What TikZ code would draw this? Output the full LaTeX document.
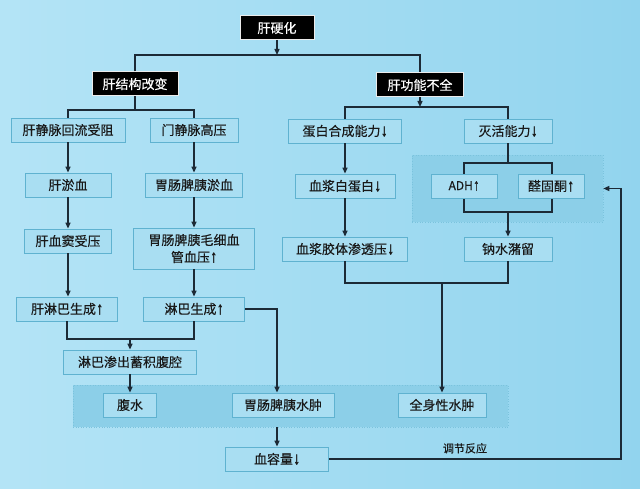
\documentclass[tikz,border=0pt]{standalone}
\usepackage{fontspec}
\usepackage{graphicx}
\setmainfont{Noto Sans CJK SC}[FakeBold=0.35]
\newfontfamily\arrfont{Liberation Sans}[FakeBold=0.6]
\newcommand{\myup}{{\kern0.5pt\raisebox{-0.3pt}{\scalebox{1}[1.35]{\arrfont ↑}}}}
\newcommand{\mydn}{{\kern0.5pt\raisebox{-0.3pt}{\scalebox{1}[1.35]{\arrfont ↓}}}}
\usetikzlibrary{arrows.meta,positioning}
\definecolor{bgL}{HTML}{B4E4F6}
\definecolor{bgR}{HTML}{92D4EE}
\definecolor{boxfill}{HTML}{A9DEF2}
\definecolor{boxline}{HTML}{5FB2D0}
\definecolor{bandfill}{HTML}{8CCFE8}
\definecolor{bandline}{HTML}{7BC3DD}
\definecolor{ink}{HTML}{1C2A36}
\begin{document}
\begin{tikzpicture}[x=1pt,y=-1pt,
  cbox/.style={draw=boxline,fill=boxfill,line width=0.8pt,minimum height=24pt,inner sep=0pt,align=center,font=\fontsize{13}{15}\selectfont,text=black!90},
  kbox/.style={draw=white!85!gray,fill=black,line width=1pt,minimum height=24pt,inner sep=0pt,text=white,font=\fontsize{13}{15}\selectfont},
  band/.style={draw=bandline,dotted,fill=bandfill,line width=0.6pt,inner sep=0pt},
  link/.style={draw=ink,line width=1.3pt},
  arr/.style={link,-{Triangle[length=6pt,width=5pt]}}]
\shade[left color=bgL,right color=bgR] (0,0) rectangle (640,489);
\useasboundingbox (0,0) rectangle (640,489);
% bands
\node[band,minimum width=435pt,minimum height=42pt] (band1) at (290.5,406) {};
\node[band,minimum width=191pt,minimum height=67pt] (band2) at (507.5,188.5) {};
% coordinates
\coordinate (j1) at (277,55);
\coordinate (j2) at (135,110);
\coordinate (j3) at (420,107);
\coordinate (j4) at (130,339);
\coordinate (j5) at (442,283);
\coordinate (j6) at (508,163);
\coordinate (j7) at (508,212);
\coordinate (c1) at (621,188.5);
\coordinate (g1) at (464,163);
\coordinate (g2) at (552,163);
\coordinate (g3) at (552,212);
\coordinate (g4) at (464,212);
% nodes
\node[kbox,minimum width=74pt] (top) at (277,28) {肝硬化};
\node[kbox,minimum width=86pt] (struct) at (135,84) {肝结构改变};
\node[kbox,minimum width=87pt] (func) at (420,85) {肝功能不全};
\node[cbox,minimum width=114pt] (hv) at (68,130) {肝静脉回流受阻};
\node[cbox,minimum width=88pt] (pv) at (194,130) {门静脉高压};
\node[cbox,minimum width=113pt] (ps) at (345,131) {蛋白合成能力\mydn};
\node[cbox,minimum width=88pt] (ia) at (508,131) {灭活能力\mydn};
\node[cbox,minimum width=86pt] (lc) at (68,185) {肝淤血};
\node[cbox,minimum width=97pt] (gc) at (194,185) {胃肠脾胰淤血};
\node[cbox,minimum width=100pt] (pa) at (345,186) {血浆白蛋白\mydn};
\node[cbox,minimum width=87pt] (sin) at (68,241) {肝血窦受压};
\node[cbox,minimum width=121pt,minimum height=41pt,font=\fontsize{13}{17}\selectfont] (cap) at (194,248.5) {胃肠脾胰毛细血\\管血压\myup};
\node[cbox,minimum width=125pt] (cop) at (345,249) {血浆胶体渗透压\mydn};
\node[cbox,minimum width=88pt] (na) at (508,249) {钠水潴留};
\node[cbox,minimum width=101pt] (hl) at (67,309) {肝淋巴生成\myup};
\node[cbox,minimum width=101pt] (ly) at (194,309) {淋巴生成\myup};
\node[cbox,minimum width=133pt] (ex) at (130,362) {淋巴渗出蓄积腹腔};
\node[cbox,minimum width=53pt] (asc) at (130,405) {腹水};
\node[cbox,minimum width=102pt] (ge) at (283,405) {胃肠脾胰水肿};
\node[cbox,minimum width=88pt] (se) at (442,405) {全身性水肿};
\node[cbox,minimum width=103pt] (bv) at (277,459) {血容量\mydn};
% ADH group (lines behind boxes)
\draw[link] (g1) -- (g4) -- (g3) -- (g2) -- cycle;
\node[cbox,minimum width=66pt,font=\fontsize{12}{14}\selectfont] (adh) at (464,186) {ADH\myup};
\node[cbox,minimum width=66pt] (ald) at (551,186) {醛固酮\myup};
\draw[link] (ia.south) -- (j6);
\draw[arr] (j7) -- (na.north);
% connectors
\draw[arr] (top.south) -- (j1);
\draw[link] (struct.north) |- (j1) -| (func.north);
\draw[link] (struct.south) -- (j2);
\draw[link] (hv.north) |- (j2) -| (pv.north);
\draw[arr] (func.south) -- (j3);
\draw[link] (ps.north) |- (j3) -| (ia.north);
\draw[arr] (hv.south) -- (hv.south |- lc.north);
\draw[arr] (lc.south) -- (lc.south |- sin.north);
\draw[arr] (sin.south) -- (sin.south |- hl.north);
\draw[arr] (pv.south) -- (pv.south |- gc.north);
\draw[arr] (gc.south) -- (gc.south |- cap.north);
\draw[arr] (cap.south) -- (cap.south |- ly.north);
\draw[arr] (ps.south) -- (ps.south |- pa.north);
\draw[arr] (pa.south) -- (pa.south |- cop.north);
\draw[link] (hl.south) |- (j4) -| (ly.south);
\draw[arr] (j4) -- (ex.north);
\draw[arr] (ex.south) -- (asc.north);
\draw[arr] (ly.east) -| (bv.north |- ge.north);
\draw[arr] (bv.north |- band1.south) -- (bv.north);
\draw[link] (cop.south) |- (j5) -| (na.south);
\draw[arr] (j5) -- (se.north);
\draw[arr] (bv.east) -| (c1) -- (band2.east);
\node[font=\fontsize{11}{13}\selectfont,text=black!90,anchor=south] (lab) at (465,457) {调节反应};
\end{tikzpicture}
\end{document}
